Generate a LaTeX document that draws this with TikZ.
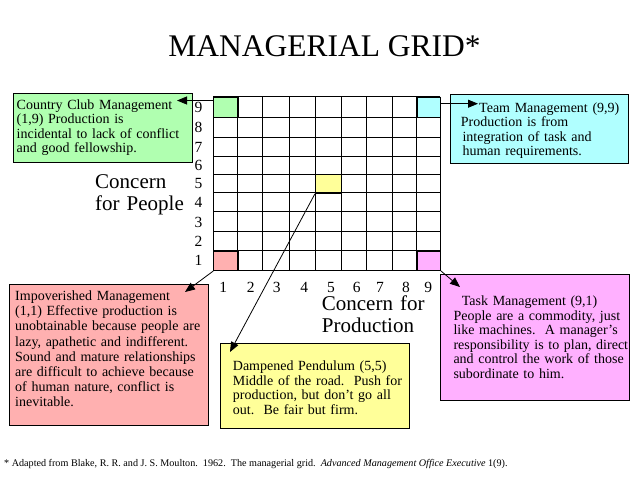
\documentclass[tikz,border=0pt]{standalone}
\usepackage{fontspec}
\setmainfont{Liberation Serif}
\usetikzlibrary{arrows.meta}
\definecolor{ccgreen}{RGB}{176,255,176}
\definecolor{tmcyan}{RGB}{176,255,255}
\definecolor{dpyellow}{RGB}{255,255,153}
\definecolor{impink}{RGB}{255,176,176}
\definecolor{tkmagenta}{RGB}{255,176,255}
\begin{document}
\begin{tikzpicture}[x=1pt,y=-1pt,
  infobox/.style={draw=black, line width=1pt, inner sep=0pt, anchor=north west},
  cell/.style={draw=black, line width=1pt, inner sep=0pt, anchor=north west},
  boxtext/.style={font=\fontsize{14}{14.5}\selectfont, text width=240pt, align=left, anchor=base west, inner sep=0pt},
  arr/.style={-{Triangle[length=10pt,width=8pt]}, line width=0.8pt},
  digit/.style={font=\fontsize{15.5}{16}\selectfont, anchor=base, inner sep=0pt},
  axis/.style={font=\fontsize{21}{21.7}\selectfont, text width=120pt, align=left, anchor=base west, inner sep=0pt}]
\useasboundingbox[fill=white] (0,0) rectangle (640,480);

% title
\node[font=\fontsize{31.5}{32}\selectfont, anchor=base, inner sep=0pt] (title) at (324.5,56.7) {MANAGERIAL GRID*};

% coloured cells
\node[cell, fill=ccgreen, minimum width=24.4pt, minimum height=20.6pt] (c19) at (213.3,96.7) {};
\node[cell, fill=tmcyan, minimum width=23.3pt, minimum height=20.6pt] (c99) at (416.7,96.7) {};
\node[cell, fill=dpyellow, minimum width=26pt, minimum height=18.4pt] (c55) at (315,174.3) {};
\node[cell, fill=impink, minimum width=24.4pt, minimum height=19.3pt] (c11) at (213.3,250.7) {};
\node[cell, fill=tkmagenta, minimum width=23.3pt, minimum height=19.3pt] (c91) at (416.7,250.7) {};

% grid lines
\foreach \gx in {213.3,237.7,262.7,289,315,341,366.7,392.3,416.7,440}
  \draw[line width=1pt] (\gx,96.7) -- (\gx,270);
\foreach \gy in {96.7,117.3,137.7,156.7,174.3,192.7,211.7,231.7,250.7,270}
  \draw[line width=1pt] (213.3,\gy) -- (440,\gy);

% row labels
\foreach \lab/\cy in {9/107,8/127.5,7/147.2,6/165.5,5/183.5,4/202.2,3/221.7,2/241.2,1/260.3}
  \node[digit] (row\lab) at (198.5,\cy+5.3) {\lab};
% column labels
\foreach \lab/\cx in {1/223.3,2/250.7,3/276.7,4/304.3,5/331,6/356.7,7/380,8/406,9/428.3}
  \node[digit] (col\lab) at (\cx,292) {\lab};

% axis titles
\node[axis] (people) at (95,188.3) {Concern\\for People};
\node[axis] (production) at (321.7,310.7) {Concern for\\Production};

% info boxes
\node[infobox, fill=ccgreen, minimum width=178.7pt, minimum height=69pt] (cc) at (13.3,92.7) {};
\node[infobox, fill=tmcyan, minimum width=178pt, minimum height=68.7pt] (tm) at (450,94.3) {};
\node[infobox, fill=impink, minimum width=199pt, minimum height=141pt] (im) at (9.3,284) {};
\node[infobox, fill=dpyellow, minimum width=188.7pt, minimum height=85pt] (dp) at (220.3,342.7) {};
\node[infobox, fill=tkmagenta, minimum width=188.7pt, minimum height=126pt] (tk) at (440,274) {};

\node[boxtext] (cctext) at (16.5,109) {Country Club Management\\(1,9) Production is\\incidental to lack of conflict\\and good fellowship.};
\node[boxtext] (tmtext) at (460.7,112.3) {\hspace*{18.3pt}Team Management (9,9)\\Production is from\\\hspace*{1.6pt}integration of task and\\\hspace*{1.6pt}human requirements.};
\node[boxtext, font=\fontsize{14}{15.1}\selectfont] (imtext) at (15,300.7) {Impoverished Management\\(1,1) Effective production is\\unobtainable because people are\\lazy, apathetic and indifferent.\\Sound and mature relationships\\are difficult to achieve because\\of human nature, conflict is\\inevitable.};
\node[boxtext] (dptext) at (232.7,370.7) {Dampened Pendulum (5,5)\\Middle of the road.\ \ Push for\\production, but don’t go all\\out.\ \ Be fair but firm.};
\node[boxtext] (tktext) at (453.3,305.7) {\hspace*{8.4pt}Task Management (9,1)\\People are a commodity, just\\like machines.\ \ A manager’s\\responsibility is to plan, direct\\and control the work of those\\subordinate to him.};

% arrow tips
\coordinate (ccTip) at (177,100.5);
\coordinate (tmTip) at (478,103.7);
\coordinate (imTip) at (185,292);
\coordinate (dpTip) at (230,352);
\coordinate (tkTip) at (460,287);

\draw[arr] ([yshift=-3.8pt]c19.north west) -- (ccTip);
\draw[arr] ([yshift=-7pt]c99.north east) -- (tmTip);
\draw[arr] (c11.south west) -- (imTip);
\draw[arr] (c55.south west) -- (dpTip);
\draw[arr] (c91.south east) -- (tkTip);

% footnote
\node[font=\fontsize{10.15}{12}\selectfont, anchor=base west, inner sep=0pt] (foot) at (4,466) {* Adapted from Blake, R. R. and J. S. Moulton.\ \ 1962.\ \ The managerial grid.\ \ \textit{Advanced Management Office Executive} 1(9).};
\end{tikzpicture}
\end{document}
